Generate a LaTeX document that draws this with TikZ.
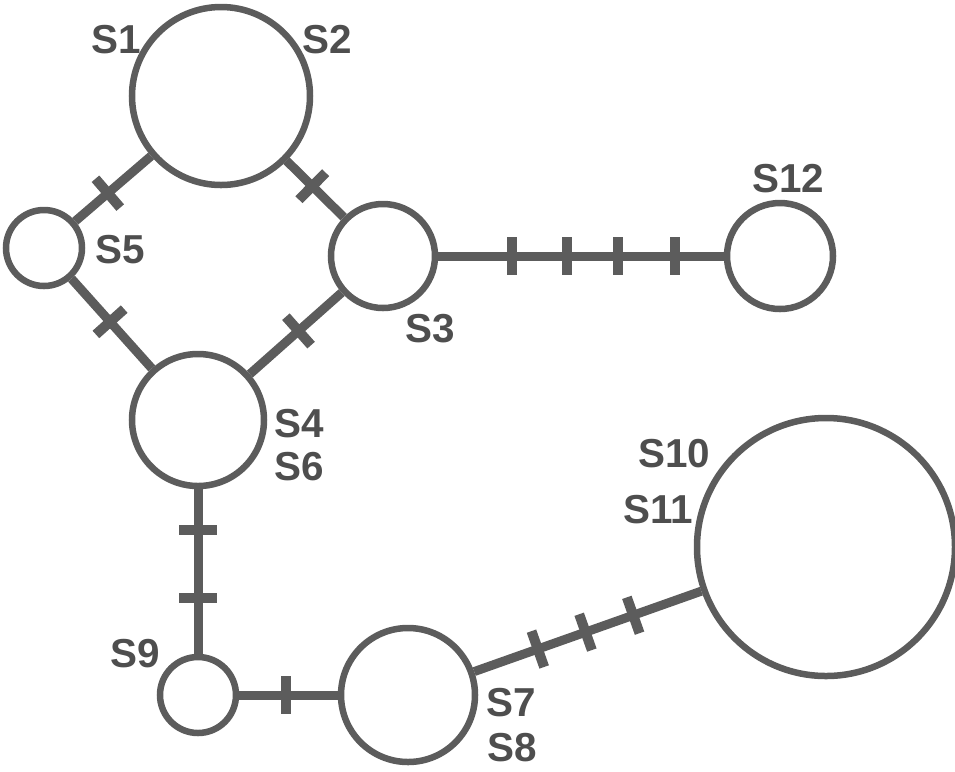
\documentclass[tikz,border=0pt]{standalone}
\usepackage{fontspec}
\setmainfont{Liberation Sans}
\usetikzlibrary{positioning}
\definecolor{LineGray}{RGB}{92,92,92}
\definecolor{TextGray}{RGB}{78,78,78}

\begin{document}
\begin{tikzpicture}[x=0.2mm, y=-0.2mm,
    state/.style={circle, draw=LineGray, line width=1.3mm, inner sep=0pt},
    lbl/.style={text=TextGray, font=\bfseries\fontsize{23}{25}\selectfont, inner sep=0pt},
    link/.style={draw=LineGray, line width=1.8mm},
    tickbar/.style={sloped, fill=LineGray, inner sep=0pt, minimum width=2mm, minimum height=7.6mm}
  ]
  \useasboundingbox (0,0) rectangle (955,771);

  % sites
  \node[state, minimum size=35.6mm] (s1s2) at (221,96) {};
  \node[state, minimum size=15.2mm] (s5) at (44,248) {};
  \node[state, minimum size=20.8mm] (s3) at (383,256) {};
  \node[state, minimum size=21.2mm] (s12) at (780,256) {};
  \node[state, minimum size=26.4mm] (s4s6) at (198,420) {};
  \node[state, minimum size=15.2mm] (s9) at (198,695) {};
  \node[state, minimum size=26.8mm] (s7s8) at (408,695) {};
  \node[state, minimum size=51.6mm] (s10s11) at (826,547) {};

  % labels
  \node[lbl] (l1) at (116,40) {S1};
  \node[lbl] (l2) at (327,40) {S2};
  \node[lbl] (l5) at (120,250) {S5};
  \node[lbl] (l3) at (430,329) {S3};
  \node[lbl] (l12) at (788,179) {S12};
  \node[lbl] (l4) at (299,424) {S4};
  \node[lbl] (l6) at (299,467) {S6};
  \node[lbl] (l9) at (135,654) {S9};
  \node[lbl] (l10) at (674,454) {S10};
  \node[lbl] (l11) at (658,510) {S11};
  \node[lbl] (l7) at (511,703) {S7};
  \node[lbl] (l8) at (512,748) {S8};

  % links
  \draw[link] (s1s2) -- node[tickbar, pos=0.57] {} (s5);
  \draw[link] (s1s2) -- node[tickbar, pos=0.45] {} (s3);
  \draw[link] (s5) -- node[tickbar, pos=0.48] {} (s4s6);
  \draw[link] (s3) -- node[tickbar, pos=0.47] {} (s4s6);
  \draw[link] (s3) -- node[tickbar, pos=0.26] {} node[tickbar, pos=0.45] {}
    node[tickbar, pos=0.63] {} node[tickbar, pos=0.83] {} (s12);
  \draw[link] (s4s6) -- node[tickbar, pos=0.25] {} node[tickbar, pos=0.66] {} (s9);
  \draw[link] (s9) -- node[tickbar, pos=0.47] {} (s7s8);
  \draw[link] (s7s8) -- node[tickbar, pos=0.28] {} node[tickbar, pos=0.49] {}
    node[tickbar, pos=0.70] {} (s10s11);
\end{tikzpicture}
\end{document}
